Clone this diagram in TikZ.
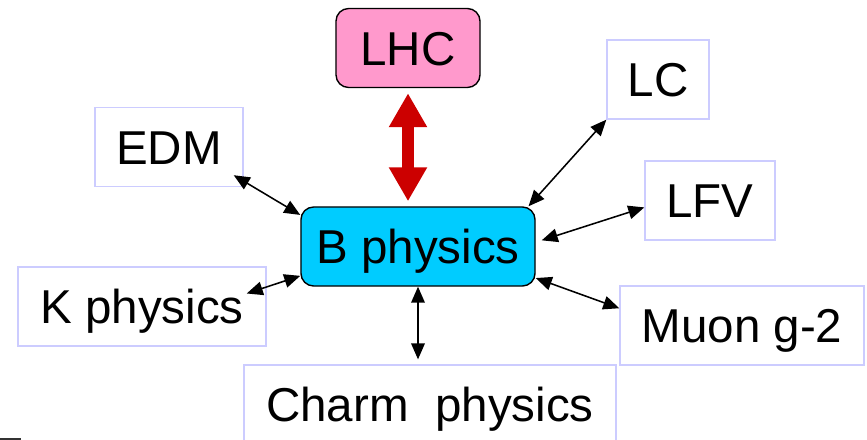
\documentclass[tikz,border=0pt]{standalone}
\usepackage{fontspec}
\setmainfont{Liberation Sans}
\usetikzlibrary{arrows.meta}
\definecolor{BCyan}{RGB}{0,204,255}
\definecolor{LPink}{RGB}{255,153,204}
\definecolor{BoxLav}{RGB}{204,204,255}
\definecolor{ArrRed}{RGB}{204,0,0}

\begin{document}
\begin{tikzpicture}[x=0.025cm, y=-0.025cm,
      tbox/.style={rectangle, draw=BoxLav, line width=1pt, fill=white,
                   minimum height=1.975cm, inner sep=0pt, text height=24.2pt,
                   text depth=0pt, font=\fontsize{33.8}{38}\selectfont},
      rbox/.style={tbox, draw=black, rounded corners=9pt},
      arr/.style={{Triangle[length=0.4cm, width=0.34cm]}-{Triangle[length=0.4cm, width=0.34cm]},
                  line width=1.1pt},
      bigarr/.style={{Triangle[length=0.85cm, width=0.9cm]}-{Triangle[length=0.85cm, width=0.9cm]},
                     draw=ArrRed, line width=0.3cm, shorten >=0.125cm, shorten <=0.125cm}
    ]
    \clip (0,0) rectangle (867,440);

    \node[rbox, fill=LPink, minimum width=3.6cm]   (lhc)    at (408, 48)    {LHC};
    \node[rbox, fill=BCyan, minimum width=5.85cm]  (bphys)  at (418, 246.5) {B physics};
    \node[tbox, minimum width=3.7cm]   (edm)    at (169, 147)   {EDM};
    \node[tbox, minimum width=2.55cm]  (lc)     at (658, 79.5)  {LC};
    \node[tbox, minimum width=3.25cm]  (lfv)    at (710, 200.5) {LFV};
    \node[tbox, minimum width=6.1cm]   (muon)   at (742, 325.5) {Muon g-2};
    \node[tbox, minimum width=6.2cm]   (kphys)  at (142, 306.5) {K physics};
    \node[tbox, minimum width=9.3cm]   (charm)  at (430, 404.5) {Charm\ \ physics};

    \draw[bigarr] (lhc.south) -- (lhc.south |- bphys.north);

    \draw[arr] ([shift={(-10,-12)}]edm.south east) -- (bphys.165);
    \draw[arr] (lc.south west) -- (bphys.20);
    \draw[arr] (lfv.186) -- ([shift={(6,0)}]bphys.3);
    \draw[arr] (muon.172) -- (bphys.-15);
    \draw[arr] ([shift={(-20,-13)}]kphys.east) -- (bphys.194);
    \draw[arr, shorten >=3.5pt] (bphys.south) -- (bphys.south |- charm.north);

    \draw[line width=0.05cm, black!80] (0,439) -- (21,439);
  \end{tikzpicture}
\end{document}
